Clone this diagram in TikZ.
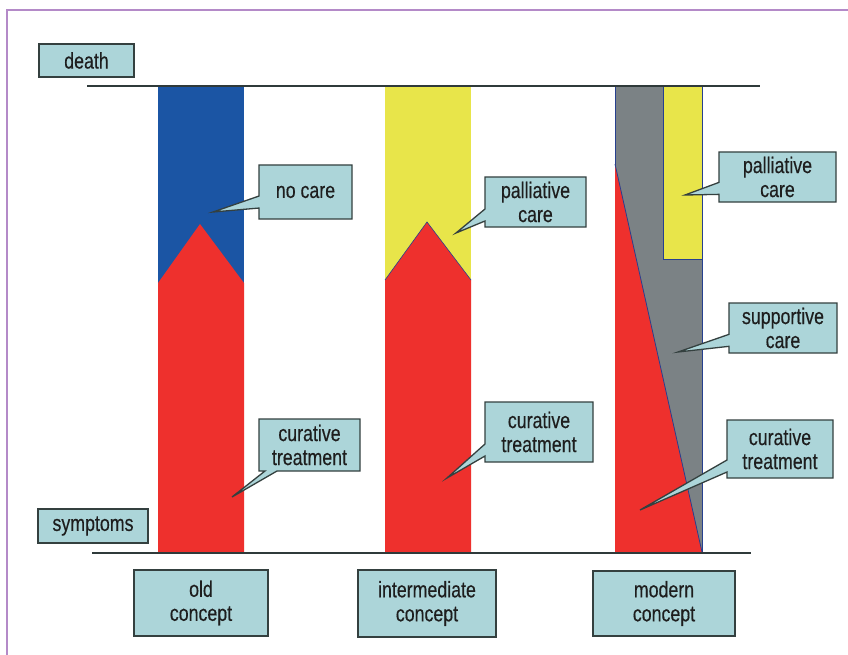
\documentclass[tikz,border=0pt]{standalone}
\usepackage{fontspec}
\setmainfont{Liberation Sans}[FakeStretch=0.79,FakeBold=0.3]
\usetikzlibrary{shapes.callouts}
\definecolor{boxfill}{HTML}{ACD5D9}
\definecolor{boxline}{HTML}{34403F}
\definecolor{txt}{HTML}{1E1E1E}
\definecolor{barblue}{HTML}{1B55A4}
\definecolor{barred}{HTML}{EE302D}
\definecolor{baryellow}{HTML}{E8E54A}
\definecolor{bargray}{HTML}{7B8285}
\definecolor{edgeblue}{HTML}{27408F}
\definecolor{axis}{HTML}{2F3A3A}
\definecolor{frame}{HTML}{B48AC8}
\tikzset{
  lbl/.style={draw=boxline, fill=boxfill, line width=1.3pt, text=txt, align=center,
    font=\fontsize{22.5}{24}\selectfont, inner sep=0pt},
  callbox/.style={lbl, rectangle callout, callout pointer width=12pt},
  axisline/.style={draw=axis, line width=2.6pt},
  edge/.style={draw=edgeblue, line width=0.8pt}
}
\begin{document}
\begin{tikzpicture}[x=1pt,y=-1pt]
\useasboundingbox (0,0) rectangle (848,655);
\fill[white] (0,0) rectangle (848,655);
% frame
\draw[frame, line width=1.5pt] (7,655) -- (7,10) -- (848,10);
% old concept bar
\fill[barblue] (158,86) rectangle (244,552);
\fill[barred] (158,552) -- (158,283) -- (200,224) -- (244,283) -- (244,552) -- cycle;
% intermediate bar
\fill[baryellow] (385,86) rectangle (471,552);
\fill[barred] (385,552) -- (385,280) -- (427,222) -- (471,280) -- (471,552) -- cycle;
\draw[edge, line width=0.6pt] (385,280) -- (427,222) -- (471,280);
% modern bar
\filldraw[fill=bargray, edge] (615,86) rectangle (702,552);
\filldraw[fill=baryellow, edge] (663,86) rectangle (702,259);
\fill[barred] (615,164) -- (702,552) -- (615,552) -- cycle;
\draw[edge] (615,164) -- (702,552);
% axis lines
\draw[axisline] (87,86) -- (760,86);
\draw[axisline] (92,553) -- (751,553);
% side labels
\node[lbl, minimum width=95pt, minimum height=33pt] (death) at (86.5,60.5) {death};
\node[lbl, minimum width=110pt, minimum height=34pt] (symptoms) at (93,526) {symptoms};
% concept labels
\node[lbl, minimum width=134pt, minimum height=66pt] (old) at (201,603) {old\\concept};
\node[lbl, minimum width=138pt, minimum height=67pt] (inter) at (427,603.5) {intermediate\\concept};
\node[lbl, minimum width=142pt, minimum height=65pt] (modern) at (664,603.5) {modern\\concept};
% pointer tips
\coordinate (t1) at (213,212);
\coordinate (t2) at (232,497);
\coordinate (t3) at (456,233);
\coordinate (t4) at (447,478);
\coordinate (t5) at (685,195);
\coordinate (t6) at (678,352);
\coordinate (t7) at (640,510);
% callouts
\node[callbox, minimum width=93pt, minimum height=54pt, callout absolute pointer={(t1)}] (nocare) at (305.5,192) {no care};
\node[callbox, minimum width=101pt, minimum height=52pt, callout absolute pointer={(t2)}] (oldcur) at (309.5,445) {curative\\treatment};
\node[callbox, minimum width=101pt, minimum height=50pt, callout absolute pointer={(t3)}] (intpal) at (535.5,202) {palliative\\care};
\node[callbox, minimum width=108pt, minimum height=60pt, callout absolute pointer={(t4)}] (intcur) at (539,432) {curative\\treatment};
\node[callbox, minimum width=117pt, minimum height=50pt, callout absolute pointer={(t5)}] (modpal) at (777.5,177) {palliative\\care};
\node[callbox, minimum width=108pt, minimum height=50pt, callout absolute pointer={(t6)}] (modsup) at (783,328) {supportive\\care};
\node[callbox, minimum width=106pt, minimum height=58pt, callout absolute pointer={(t7)}] (modcur) at (780,449) {curative\\treatment};
\end{tikzpicture}
\end{document}
